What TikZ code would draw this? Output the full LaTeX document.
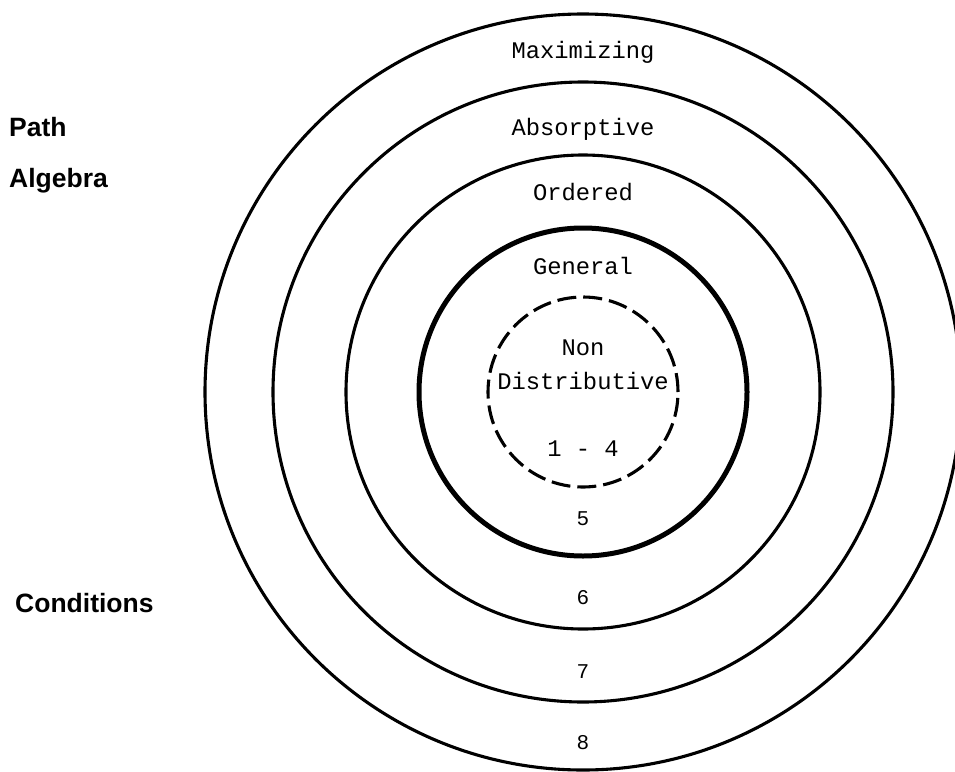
\documentclass[tikz,border=0pt]{standalone}
\usepackage{fontspec}
\newfontfamily\ringfont{Liberation Mono}
\newfontfamily\sidefont{Liberation Sans}
\tikzset{
  ring/.style={line width=3.1pt},
  ringlabel/.style={anchor=base, inner sep=0pt, font=\ringfont\fontsize{23.8}{28}\selectfont},
  condlabel/.style={anchor=base, inner sep=0pt, font=\ringfont\fontsize{21}{25}\selectfont},
  sidelabel/.style={anchor=base west, inner sep=0pt, font=\sidefont\bfseries\fontsize{26.5}{31}\selectfont}
}
\begin{document}
\begin{tikzpicture}[x=1pt,y=-1pt]
            \useasboundingbox (0,0) rectangle (955,771);
            \coordinate (O) at (583,392);

            % Draw the nested circles
            \draw[ring] (O) circle[radius=378pt];
            \draw[ring] (O) circle[radius=310pt];
            \draw[ring] (O) circle[radius=237pt];
            \draw[line width=5pt] (O) circle[radius=164pt];
            \draw[ring, dash pattern=on 19pt off 7pt] (O) circle[radius=95pt];

            % Label the algebras
            \node[ringlabel] (max) at (583,58) {Maximizing};
            \node[ringlabel] (abs) at (583,135) {Absorptive};
            \node[ringlabel] (ord) at (583,200) {Ordered};
            \node[ringlabel] (gen) at (583,274) {General};
            \node[ringlabel] (non) at (583,355) {Non};
            \node[ringlabel] (dist) at (583,389) {Distributive};

            % Label the conditions
            \node[ringlabel] (c14) at (583,456) {1 - 4};
            \node[condlabel] (c5) at (583,525) {5};
            \node[condlabel] (c6) at (583,604) {6};
            \node[condlabel] (c7) at (583,678) {7};
            \node[condlabel] (c8) at (583,749) {8};

            % Side captions
            \node[sidelabel] (path) at (9,136) {Path};
            \node[sidelabel] (alg) at (9,187) {Algebra};
            \node[sidelabel] (cond) at (15,612) {Conditions};
        \end{tikzpicture}
\end{document}
